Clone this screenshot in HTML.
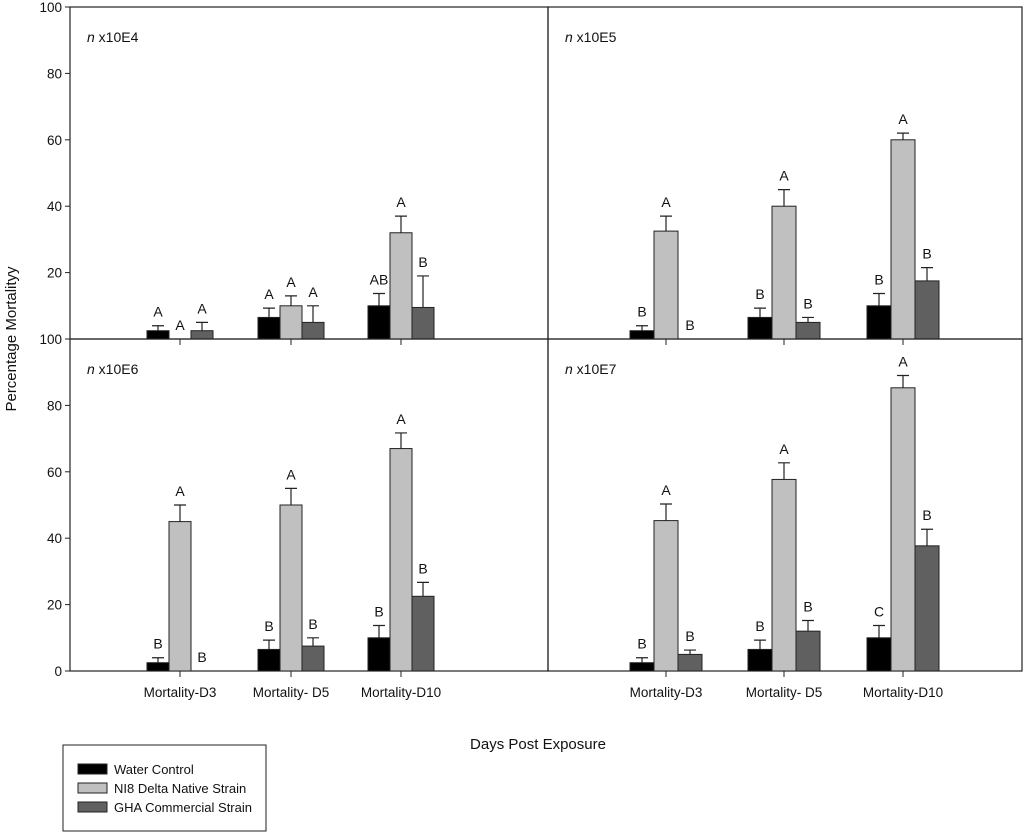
<!DOCTYPE html>
<html><head><meta charset="utf-8"><style>
html,body{margin:0;padding:0;background:#fff;}
svg{display:block;font-family:"Liberation Sans",Arial,sans-serif;}
</style></head><body>
<svg id="chart" width="1024" height="834" viewBox="0 0 1024 834" xmlns="http://www.w3.org/2000/svg"></svg>
<script>
const categories = ["Mortality-D3","Mortality- D5","Mortality-D10"];
const seriesNames = ["Water Control","NI8 Delta Native Strain","GHA Commercial Strain"];
const panelTitles = ["x10E4","x10E5","x10E6","x10E7"];
const valuesE4 = [[2.5,0,2.5],[6.5,10,5],[10,32,9.5]];
const errTopE4 = [[4,null,5],[9.3,13,10],[13.7,37,19]];
const lettersE4 = [["A","A","A"],["A","A","A"],["AB","A","B"]];
const valuesE5 = [[2.5,32.5,0],[6.5,40,5],[10,60,17.5]];
const errTopE5 = [[4,37,null],[9.3,45,6.5],[13.7,62,21.5]];
const lettersE5 = [["B","A","B"],["B","A","B"],["B","A","B"]];
const valuesE6 = [[2.5,45,0],[6.5,50,7.5],[10,67,22.5]];
const errTopE6 = [[4,50,null],[9.3,55,10],[13.7,71.7,26.7]];
const lettersE6 = [["B","A","B"],["B","A","B"],["B","A","B"]];
const valuesE7 = [[2.5,45.3,5],[6.5,57.7,12],[10,85.3,37.7]];
const errTopE7 = [[4,50.3,6.3],[9.3,62.7,15.2],[13.7,89,42.7]];
const lettersE7 = [["B","A","B"],["B","A","B"],["C","A","B"]];
const yTicks = [0,20,40,60,80,100];

const NS="http://www.w3.org/2000/svg";
const svg=document.getElementById('chart');
const colors=["#000000","#c0c0c0","#606060"];
function mk(tag,attrs,parent){const e=document.createElementNS(NS,tag);for(const k in attrs)e.setAttribute(k,attrs[k]);(parent||svg).appendChild(e);return e;}

const panels=[
 {vals:valuesE4,err:errTopE4,let:lettersE4,x0:70,x1:548,y0:7,y1:339,centers:[180,291,401],bw:22},
 {vals:valuesE5,err:errTopE5,let:lettersE5,x0:548,x1:1022,y0:7,y1:339,centers:[666,784,903],bw:24},
 {vals:valuesE6,err:errTopE6,let:lettersE6,x0:70,x1:548,y0:339,y1:671,centers:[180,291,401],bw:22},
 {vals:valuesE7,err:errTopE7,let:lettersE7,x0:548,x1:1022,y0:339,y1:671,centers:[666,784,903],bw:24}
];
panels.forEach((p,pi)=>{
  const g=mk('g',{});
  
  
  const ys=v=>p.y1-(v/100)*(p.y1-p.y0);
  const fr=mk('rect',{x:p.x0,y:p.y0,width:p.x1-p.x0,height:p.y1-p.y0,fill:'none',stroke:'#222','stroke-width':1.2},g);
  
  
  const t=mk('text',{x:p.x0+17,y:p.y0+35,'font-size':14,fill:'#111'},g);
  t.innerHTML='<tspan font-style="italic">n</tspan> '+panelTitles[pi];
  
  
  p.vals.forEach((cv,ci)=>{
    cv.forEach((v,si)=>{
      const x=p.centers[ci]+(si-1.5)*p.bw;
      if(v>0){
        const r=mk('rect',{x:x,y:ys(v),width:p.bw,height:ys(0)-ys(v),fill:colors[si],stroke:'#222','stroke-width':1},g);
        
        
      }
      const e=p.err[ci][si];
      const cx=x+p.bw/2;
      if(e!==null&&e>v){
        const l=mk('path',{d:`M${cx},${ys(v)}V${ys(e)}M${cx-6},${ys(e)}H${cx+6}`,stroke:'#222','stroke-width':1.2,fill:'none'},g);
        
        
      }
      const top=Math.max(v,e||0);
      const lt=mk('text',{x:cx,y:ys(top)-9,'font-size':14,'text-anchor':'middle',fill:'#111'},g);
      lt.textContent=p.let[ci][si];
      
      
    });
  });
  if(pi>=2){
    categories.forEach((c,ci)=>{
      mk('line',{x1:p.centers[ci],x2:p.centers[ci],y1:p.y1,y2:p.y1+6,stroke:'#222'},g);
      const ct=mk('text',{x:p.centers[ci],y:p.y1+26,'font-size':13.5,'text-anchor':'middle',fill:'#111'},g);
      ct.textContent=c;
      
      
    });
  } else {
    categories.forEach((c,ci)=>{
      mk('line',{x1:p.centers[ci],x2:p.centers[ci],y1:p.y1,y2:p.y1+6,stroke:'#222'},g);
    });
  }
  if(pi%2===0){
    yTicks.forEach(tv=>{
      if(pi===0&&tv===0)return;
      mk('line',{x1:p.x0-5,x2:p.x0,y1:ys(tv),y2:ys(tv),stroke:'#222'},g);
      const yt=mk('text',{x:p.x0-8,y:ys(tv)+5,'font-size':13.5,'text-anchor':'end',fill:'#111'},g);
      yt.textContent=tv;
      
      
    });
  }
});
const yt=mk('text',{x:0,y:0,'font-size':15,'text-anchor':'middle',fill:'#111',transform:'translate(16,339) rotate(-90)'});
yt.textContent='Percentage Mortalityy';


const xt=mk('text',{x:538,y:749,'font-size':15,'text-anchor':'middle',fill:'#111'});
xt.textContent='Days Post Exposure';


const lg=mk('g',{});


mk('rect',{x:63,y:745,width:203,height:86,fill:'#fff',stroke:'#222','stroke-width':1},lg);
seriesNames.forEach((n,i)=>{
  const y=764+i*19;
  const sw=mk('rect',{x:78,y:y,width:29,height:10,fill:colors[i],stroke:'#222'},lg);
  
  
  const tx=mk('text',{x:114,y:y+10,'font-size':13,fill:'#111'},lg);
  tx.textContent=n;
  
  
});
</script>
</body></html>
